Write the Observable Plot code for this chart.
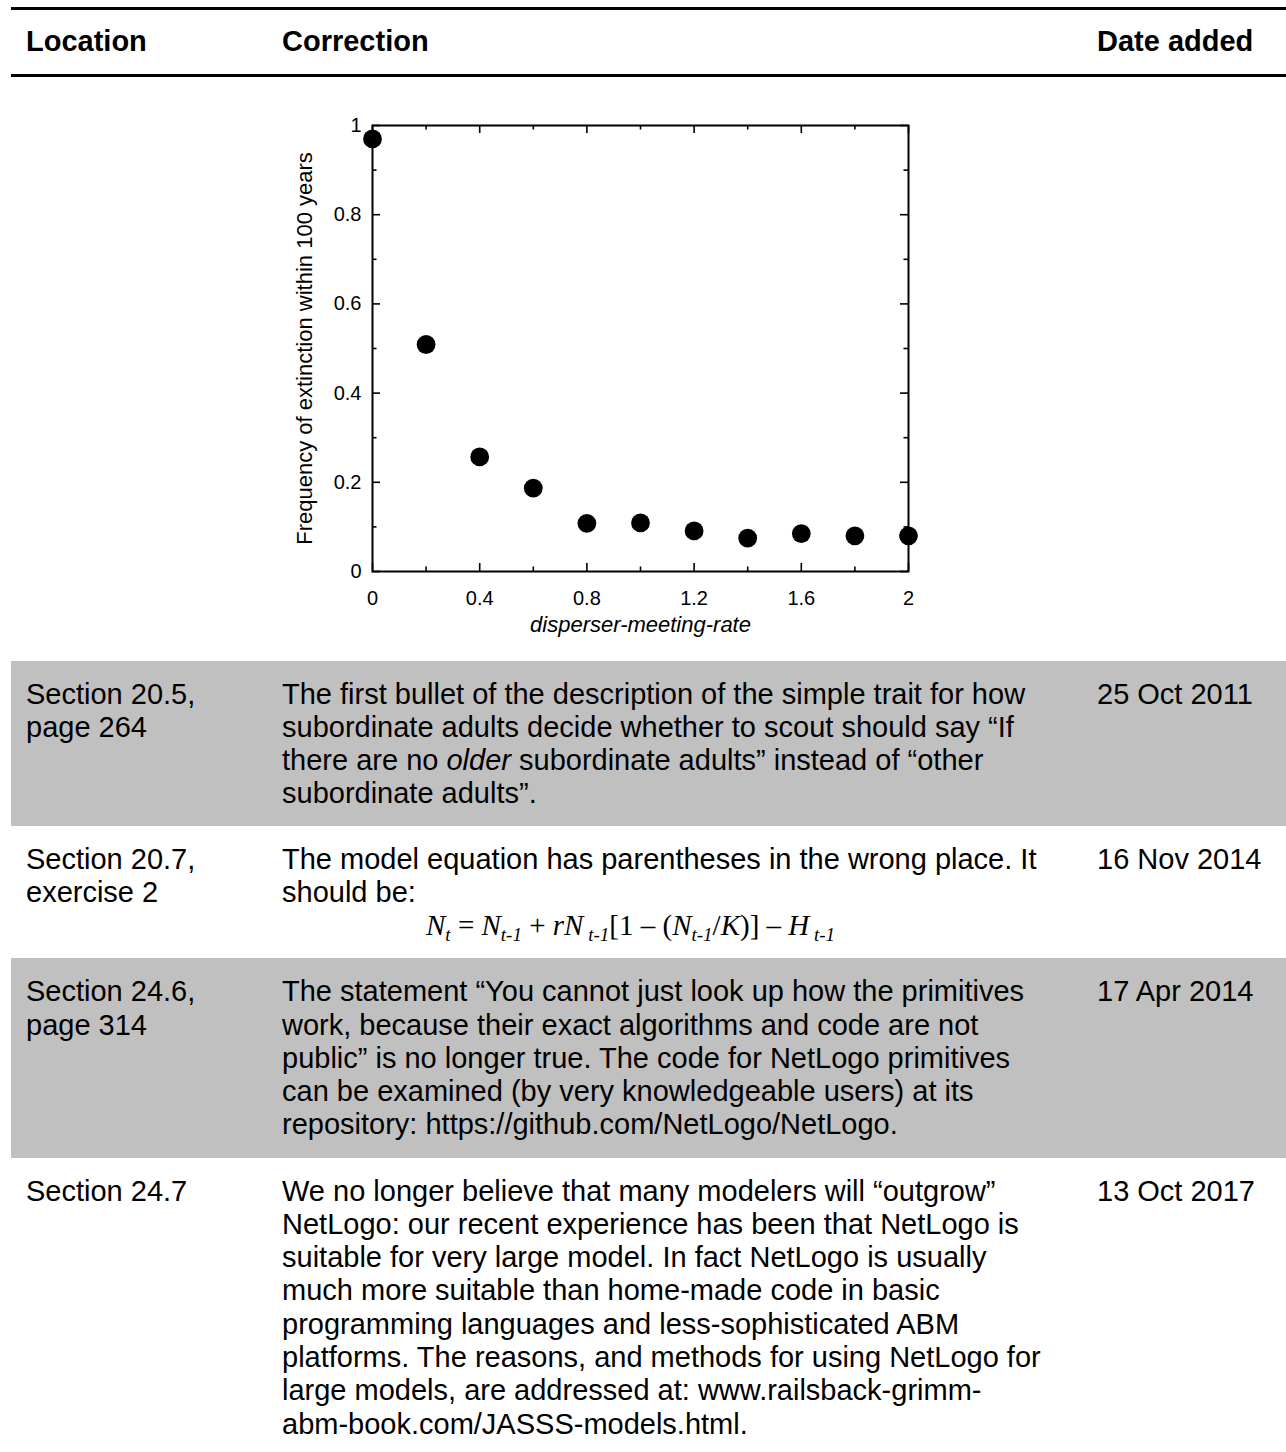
<!DOCTYPE html>
<html>
<head>
<meta charset="utf-8">
<script src="https://cdn.jsdelivr.net/npm/d3@7"></script>
<script src="https://cdn.jsdelivr.net/npm/@observablehq/plot@0.6"></script>
<style>
html, body { margin: 0; padding: 0; background: #fff; }
#page { position: relative; width: 1286px; height: 1452px; overflow: hidden; font-family: "Liberation Sans", Arial, sans-serif; color: #000; }
.rule { position: absolute; left: 11px; right: 0; height: 3px; background: #000; }
.gray { position: absolute; left: 11px; right: 0; background: #c0c0c0; }
.cell { position: absolute; font-size: 29px; line-height: 33.3px; white-space: nowrap; }
.hdr { font-weight: bold; }
#chart { position: absolute; left: 0; top: 77px; }
.eq { position: absolute; left: 426px; top: 909.2px; font-family: "Liberation Serif", "Times New Roman", serif; font-size: 29px; line-height: 33.3px; white-space: nowrap; }
.eq .s { font-size: 19px; position: relative; top: 6px; line-height: 0; }
</style>
</head>
<body>
<div id="page">
  <div class="rule" style="top:6.8px"></div>
  <div class="rule" style="top:74.2px"></div>
  <div class="cell hdr" style="left:26px;top:25.3px">Location</div>
  <div class="cell hdr" style="left:282px;top:25.3px">Correction</div>
  <div class="cell hdr" style="left:1097px;top:25.3px">Date added</div>

  <div id="chart"></div>

  <div class="gray" style="top:660.7px;height:165.3px"></div>
  <div class="cell" style="left:26px;top:677.6px">Section 20.5,<br>page 264</div>
  <div class="cell" style="left:282px;top:677.6px">The first bullet of the description of the simple trait for how<br>subordinate adults decide whether to scout should say “If<br>there are no <i>older</i> subordinate adults” instead of “other<br>subordinate adults”.</div>
  <div class="cell" style="left:1097px;top:677.6px">25 Oct 2011</div>

  <div class="cell" style="left:26px;top:842.6px">Section 20.7,<br>exercise 2</div>
  <div class="cell" style="left:282px;top:842.6px">The model equation has parentheses in the wrong place. It<br>should be:</div>
  <div class="cell" style="left:1097px;top:842.6px">16 Nov 2014</div>
  <div class="eq"><i>N<span class="s">t</span></i> = <i>N<span class="s">t-1</span></i> + <i>rN</i><span class="s"><i>&nbsp;t-1</i></span>[1 – (<i>N<span class="s">t-1</span></i>/<i>K</i>)] – <i>H</i><span class="s"><i>&nbsp;t-1</i></span></div>

  <div class="gray" style="top:958px;height:199.7px"></div>
  <div class="cell" style="left:26px;top:975.3px">Section 24.6,<br>page 314</div>
  <div class="cell" style="left:282px;top:975.3px">The statement “You cannot just look up how the primitives<br>work, because their exact algorithms and code are not<br>public” is no longer true. The code for NetLogo primitives<br>can be examined (by very knowledgeable users) at its<br>repository: https://github.com/NetLogo/NetLogo.</div>
  <div class="cell" style="left:1097px;top:975.3px">17 Apr 2014</div>

  <div class="cell" style="left:26px;top:1174.6px">Section 24.7</div>
  <div class="cell" style="left:282px;top:1174.6px">We no longer believe that many modelers will “outgrow”<br>NetLogo: our recent experience has been that NetLogo is<br>suitable for very large model. In fact NetLogo is usually<br>much more suitable than home-made code in basic<br>programming languages and less-sophisticated ABM<br>platforms. The reasons, and methods for using NetLogo for<br>large models, are addressed at: www.railsback-grimm-<br>abm-book.com/JASSS-models.html.</div>
  <div class="cell" style="left:1097px;top:1174.6px">13 Oct 2017</div>
</div>
<script>
// ---- chart data ----
const meetingRate = [0, 0.2, 0.4, 0.6, 0.8, 1.0, 1.2, 1.4, 1.6, 1.8, 2.0];
const extinctionFreq = [0.97, 0.509, 0.257, 0.187, 0.108, 0.109, 0.091, 0.075, 0.085, 0.080, 0.080];
const xTickLabels = [0, 0.4, 0.8, 1.2, 1.6, 2];
const xMinorTicks = [0.2, 0.6, 1.0, 1.4, 1.8];
const yTickLabels = [0, 0.2, 0.4, 0.6, 0.8, 1];
const yMinorTicks = [0.1, 0.3, 0.5, 0.7, 0.9];
const xLabel = "disperser-meeting-rate";
const yLabel = "Frequency of extinction within 100 years";

const W = 1286, H = 564, mL = 372, mR = 378, mT = 48, mB = 70;
const iW = W - mL - mR, iH = H - mT - mB;
const major = 8, minor = 4.5, tw = 1.6;
const points = meetingRate.map((x, i) => ({x, y: extinctionFreq[i]}));

const chart = Plot.plot({
  width: W, height: H,
  marginLeft: mL, marginRight: mR, marginTop: mT, marginBottom: mB,
  style: {fontFamily: '"Liberation Sans", Arial, sans-serif', background: "transparent", color: "#000", overflow: "visible"},
  x: {domain: [0, 2], label: null},
  y: {domain: [0, 1], label: null},
  marks: [
    Plot.axisX(xTickLabels, {tickSize: 0, tickPadding: 19, fontSize: 20, tickFormat: d => String(d), label: null}),
    Plot.axisY(yTickLabels, {tickSize: 0, tickPadding: 11, fontSize: 20, tickFormat: d => String(d), label: null}),
    // inward ticks: bottom & top
    Plot.tickX(xTickLabels, {x: d => d, insetTop: iH - major, strokeWidth: tw}),
    Plot.tickX(xTickLabels, {x: d => d, insetBottom: iH - major, strokeWidth: tw}),
    Plot.tickX(xMinorTicks, {x: d => d, insetTop: iH - minor, strokeWidth: tw}),
    Plot.tickX(xMinorTicks, {x: d => d, insetBottom: iH - minor, strokeWidth: tw}),
    // inward ticks: left & right
    Plot.tickY(yTickLabels, {y: d => d, insetRight: iW - major, strokeWidth: tw}),
    Plot.tickY(yTickLabels, {y: d => d, insetLeft: iW - major, strokeWidth: tw}),
    Plot.tickY(yMinorTicks, {y: d => d, insetRight: iW - minor, strokeWidth: tw}),
    Plot.tickY(yMinorTicks, {y: d => d, insetLeft: iW - minor, strokeWidth: tw}),
    Plot.frame({strokeWidth: 2}),
    Plot.dot(points, {x: "x", y: "y", r: 9.4, fill: "#000", stroke: null}),
    Plot.text([xLabel], {frameAnchor: "bottom", dy: 53, lineAnchor: "middle", textAnchor: "middle", fontSize: 22, fontStyle: "italic", fill: "#000"}),
    Plot.text([yLabel], {frameAnchor: "left", dx: -68, rotate: -90, lineAnchor: "middle", textAnchor: "middle", fontSize: 22, fill: "#000"})
  ]
});
document.getElementById("chart").appendChild(chart);
</script>
</body>
</html>
